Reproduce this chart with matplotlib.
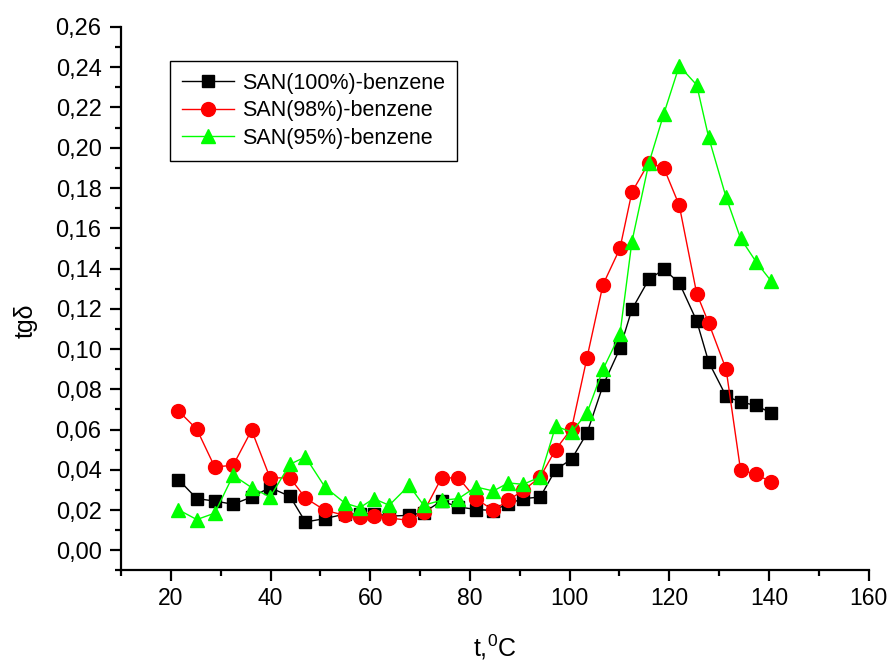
import matplotlib
matplotlib.use("Agg")
import matplotlib.pyplot as plt
from matplotlib.ticker import MultipleLocator, FuncFormatter

plt.rcParams["font.family"] = ["Liberation Sans", "DejaVu Sans"]
plt.rcParams["mathtext.fontset"] = "custom"
plt.rcParams["mathtext.rm"] = "Liberation Sans"

# temperature, deg C
temps = [21.5, 25.2, 28.8, 32.5, 36.2, 39.9, 43.9, 47.0, 50.9, 54.9, 57.9, 60.7, 63.8,
         67.8, 70.7, 74.3, 77.7, 81.2, 84.7, 87.7, 90.7, 94.1, 97.2, 100.4, 103.5, 106.7,
         110.1, 112.5, 115.9, 118.9, 122.0, 125.5, 127.9, 131.4, 134.3, 137.4, 140.4]

san100 = [0.0352, 0.0257, 0.0245, 0.0229, 0.0265, 0.0312, 0.0268, 0.0141, 0.0158, 0.0180,
          0.0180, 0.0183, 0.0170, 0.0174, 0.0188, 0.0245, 0.0216, 0.0203, 0.0198, 0.0232,
          0.0257, 0.0265, 0.0401, 0.0453, 0.0583, 0.0819, 0.1003, 0.1197, 0.1346, 0.1396,
          0.1329, 0.1140, 0.0936, 0.0766, 0.0737, 0.0720, 0.0683]

san98 = [0.0693, 0.0602, 0.0414, 0.0423, 0.0597, 0.0360, 0.0360, 0.0260, 0.0199, 0.0174,
         0.0166, 0.0169, 0.0161, 0.0149, 0.0190, 0.0360, 0.0360, 0.0257, 0.0199, 0.0249,
         0.0298, 0.0364, 0.0501, 0.0605, 0.0958, 0.1320, 0.1500, 0.1779, 0.1926, 0.1900,
         0.1714, 0.1276, 0.1130, 0.0900, 0.0399, 0.0378, 0.0340]

san95 = [0.0202, 0.0153, 0.0185, 0.0373, 0.0312, 0.0265, 0.0428, 0.0464, 0.0315, 0.0235,
         0.0212, 0.0257, 0.0224, 0.0323, 0.0224, 0.0249, 0.0257, 0.0315, 0.0295, 0.0335,
         0.0328, 0.0365, 0.0617, 0.0588, 0.0683, 0.0899, 0.1074, 0.1533, 0.1923, 0.2168,
         0.2407, 0.2312, 0.2052, 0.1754, 0.1550, 0.1434, 0.1339]

labels = ["SAN(100%)-benzene", "SAN(98%)-benzene", "SAN(95%)-benzene"]

fig = plt.figure(figsize=(8.9, 6.66), dpi=100)
ax = fig.add_axes([0.136, 0.1434, 0.840, 0.8161])

ax.plot(temps, san100, color="black", marker="s", markersize=8.5, linewidth=1.0, label=labels[0])
ax.plot(temps, san98, color="#ff0000", marker="o", markersize=10, linewidth=1.0, label=labels[1])
ax.plot(temps, san95, color="#00ff00", marker="^", markersize=10.5, linewidth=1.0, label=labels[2])

ax.set_xlim(10, 160)
ax.set_ylim(-0.01, 0.26)
ax.xaxis.set_major_locator(MultipleLocator(20))
ax.xaxis.set_minor_locator(MultipleLocator(10))
ax.yaxis.set_major_locator(MultipleLocator(0.02))
ax.yaxis.set_minor_locator(MultipleLocator(0.01))
ax.yaxis.set_major_formatter(FuncFormatter(lambda v, p: f"{v:.2f}".replace(".", ",")))

for side in ["top", "right"]:
    ax.spines[side].set_visible(False)
for side in ["left", "bottom"]:
    ax.spines[side].set_linewidth(1.6)

ax.tick_params(which="major", direction="out", length=8, width=1.6)
ax.tick_params(which="minor", direction="out", length=4.5, width=1.6)
ax.tick_params(axis="y", which="major", labelsize=17, pad=6)
ax.tick_params(axis="x", which="major", labelsize=16.5, pad=4)

ax.set_ylabel("tg\u03b4", fontsize=18)
ax.yaxis.set_label_coords(-0.112, 0.46)
ax.set_xlabel(r"t,$\mathregular{^0}$C", fontsize=18)
ax.xaxis.set_label_coords(0.5, -0.115)

leg = ax.legend(loc="upper left", bbox_to_anchor=(0.0655, 0.9374), borderaxespad=0,
                fontsize=15.5, fancybox=False, framealpha=1, edgecolor="black",
                handlelength=2.4, handletextpad=0.4, labelspacing=0.3, borderpad=0.55)
leg.get_frame().set_linewidth(1.0)

fig.savefig("out.png", dpi=100)
